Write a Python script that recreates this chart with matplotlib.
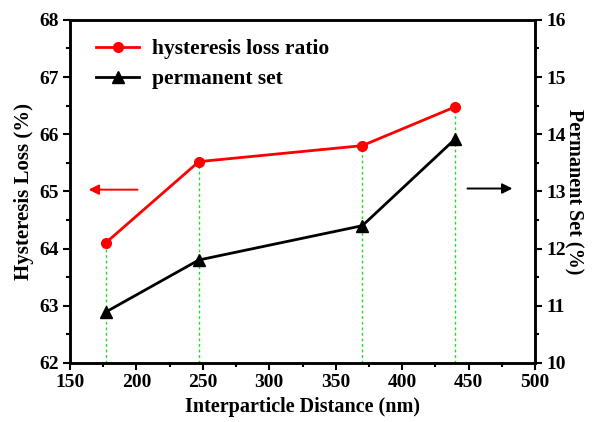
import numpy as np
import matplotlib.pyplot as plt
from matplotlib.ticker import MultipleLocator

plt.rcParams['font.family'] = 'Liberation Serif'
plt.rcParams['font.weight'] = 'bold'

distance = [177, 247, 370, 440]
hysteresis_loss = [64.1, 65.52, 65.8, 66.48]
permanent_set = [10.89, 11.8, 12.4, 13.92]

fig = plt.figure(figsize=(5.92, 4.22), dpi=100)
ax1 = fig.add_axes([0.118, 0.140, 0.786, 0.813])
ax2 = ax1.twinx()

# green guide lines from the bottom up to the red points
for x, y in zip(distance, hysteresis_loss):
    ax1.plot([x, x], [62, y], color='#22dd22', ls=(0, (2, 2)), lw=1.0, zorder=1)

l1, = ax1.plot(distance, hysteresis_loss, 'o-', color='red', lw=2, ms=7,
               label='hysteresis loss ratio', zorder=3)
l2, = ax2.plot(distance, permanent_set, '^-', color='black', lw=2, ms=8,
               label='permanent set', zorder=3)

ax1.set_xlim(150, 500)
ax1.set_ylim(62, 68)
ax2.set_ylim(10, 16)

ax1.xaxis.set_major_locator(MultipleLocator(50))
ax1.xaxis.set_minor_locator(MultipleLocator(25))
ax1.yaxis.set_major_locator(MultipleLocator(1))
ax1.yaxis.set_minor_locator(MultipleLocator(0.5))
ax2.yaxis.set_major_locator(MultipleLocator(1))
ax2.yaxis.set_minor_locator(MultipleLocator(0.5))

for ax in (ax1, ax2):
    ax.tick_params(which='major', direction='out', length=5, width=1.5, labelsize=14, pad=3)
    ax.tick_params(which='minor', direction='out', length=3, width=1.5)
    for s in ax.spines.values():
        s.set_linewidth(1.8)

ax1.set_xlabel('Interparticle Distance (nm)', fontsize=14.5, fontweight='bold', labelpad=4)
ax1.set_ylabel('Hysteresis Loss (%)', fontsize=15, fontweight='bold', labelpad=4)
ax2.set_ylabel('Permanent Set (%)', fontsize=14.5, fontweight='bold', rotation=270, labelpad=13)

# direction arrows
ax1.annotate('', xy=(162, 65.03), xytext=(203, 65.03),
             arrowprops=dict(arrowstyle='-|>', color='red', lw=1.4, mutation_scale=15))
ax2.annotate('', xy=(485, 13.05), xytext=(447, 13.05),
             arrowprops=dict(arrowstyle='-|>', color='black', lw=1.4, mutation_scale=15))

ax1.legend(handles=[l1, l2], loc='upper left', bbox_to_anchor=(0.015, 1.0),
           frameon=False, handlelength=2.0, labelspacing=0.45, handletextpad=0.6,
           prop={'weight': 'bold', 'size': 15.5})

fig.savefig('out.png', dpi=100)
